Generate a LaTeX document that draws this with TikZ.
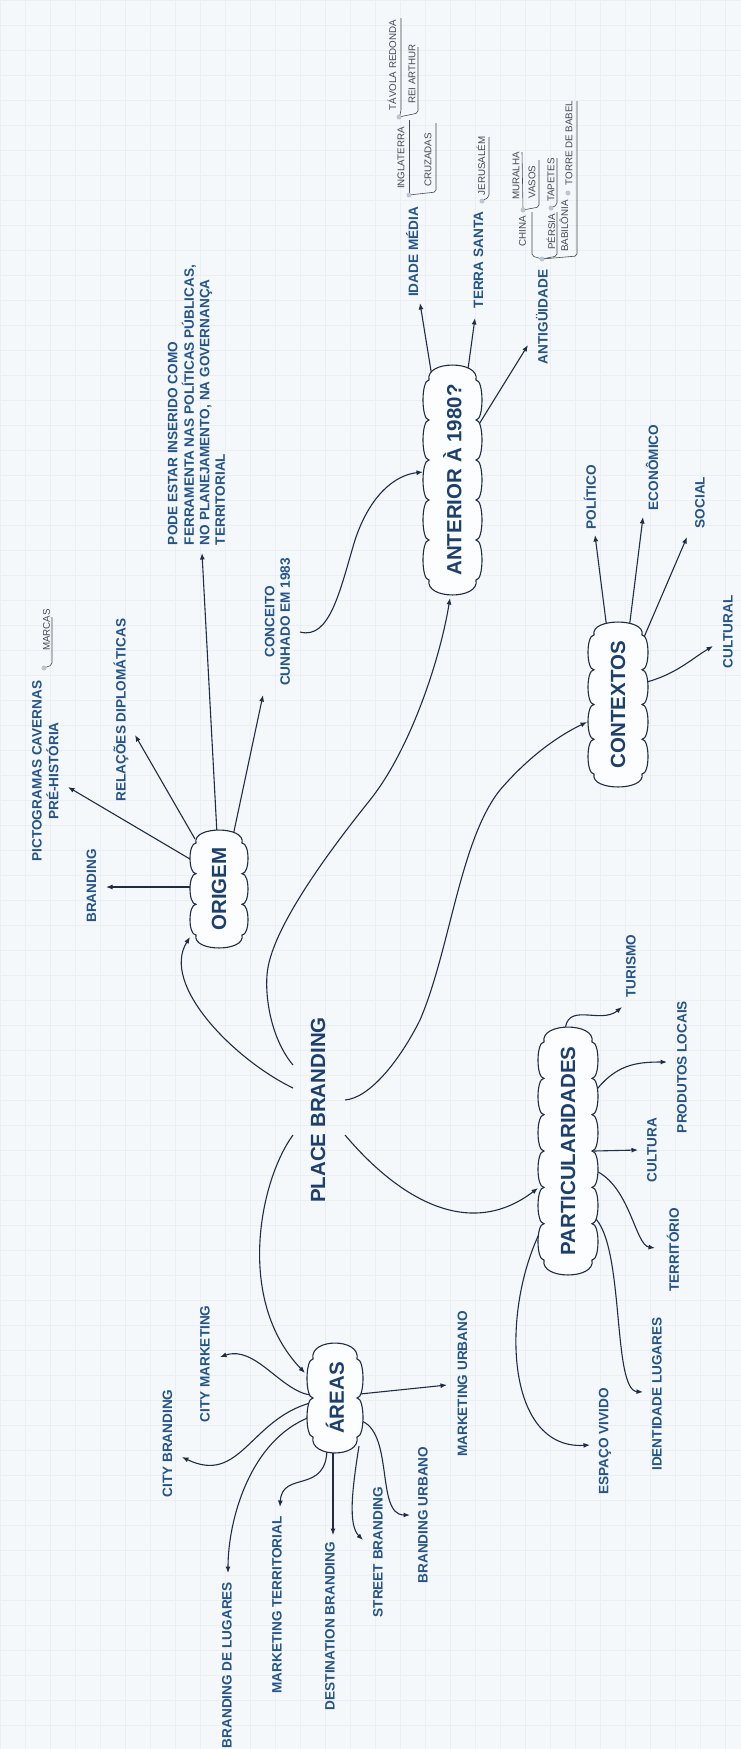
\documentclass[tikz,border=0pt]{standalone}
\usepackage{fontspec}
\setmainfont{Liberation Sans}
\usepackage{graphicx}
\usetikzlibrary{arrows.meta}
\definecolor{bgc}{HTML}{F5F8FA}
\definecolor{gridc}{HTML}{EBEFF2}
\definecolor{linec}{HTML}{1F2C44}
\definecolor{txtc}{HTML}{24548A}
\definecolor{headc}{HTML}{1D3F6E}
\definecolor{smallc}{HTML}{444B55}
\definecolor{dotc}{HTML}{BCC6D0}
\definecolor{cloudfill}{HTML}{FCFDFE}
\pgfdeclarelayer{bg}\pgfdeclarelayer{conn}\pgfdeclarelayer{cloud}
\pgfsetlayers{bg,conn,cloud,main}
% cloud outline: cx cy halfwidth halfheight bumps cap
\newcommand\cloudshape[6]{%
 \pgfmathsetmacro\cL{2*(#4-#6)/#5}%
 \pgfmathsetmacro\cXl{#1-#3+6}%
 \pgfmathsetmacro\cXr{#1+#3-6}%
 \pgfmathsetmacro\cYt{#2-#4+#6}%
 \pgfmathsetmacro\cYb{#2+#4-#6}%
 \pgfmathsetmacro\cCap{#6*1.33}%
 \draw[cloudline] (\cXl,\cYt) .. controls ({\cXl-4},{\cYt-\cCap}) and ({\cXr+4},{\cYt-\cCap}) .. (\cXr,\cYt)
  \foreach \k in {1,...,#5}{ .. controls ({\cXr+8},{\cYt+(\k-1)*\cL}) and ({\cXr+8},{\cYt+\k*\cL}) .. ({\cXr},{\cYt+\k*\cL}) }
  .. controls ({\cXr+4},{\cYb+\cCap}) and ({\cXl-4},{\cYb+\cCap}) .. (\cXl,\cYb)
  \foreach \k in {1,...,#5}{ .. controls ({\cXl-8},{\cYb-(\k-1)*\cL}) and ({\cXl-8},{\cYb-\k*\cL}) .. ({\cXl},{\cYb-\k*\cL}) }
  -- cycle;}
\tikzset{
 titletxt/.style={inner sep=0pt, text=headc, font=\fontsize{20.5}{24}\selectfont\bfseries},
 cloudtxt/.style={inner sep=0pt, text=headc, font=\fontsize{20.5}{24}\selectfont\bfseries},
 leaf/.style={inner sep=0pt, text=txtc, font=\fontsize{13.6}{15.5}\selectfont\bfseries},
 smalltxt/.style={inner sep=0pt, text=smallc, font=\fontsize{9.8}{11}\selectfont},
 conn/.style={draw=linec, line width=1.1pt, -{Latex[length=6.5pt,width=5pt]}},
 callline/.style={draw=smallc, line width=0.6pt, rounded corners=2pt},
 dotn/.style={circle, fill=dotc, inner sep=0pt, minimum size=5pt},
 cloudline/.style={draw=linec, line width=1.1pt, fill=cloudfill},
}
\begin{document}
\begin{tikzpicture}[x=1pt,y=-1pt]
\useasboundingbox (0,0) rectangle (741,1749);
\begin{pgfonlayer}{bg}
 \fill[bgc] (0,0) rectangle (741,1749);
 \foreach \gx in {0,25,...,741} \draw[gridc, line width=0.4pt] (\gx,0) -- (\gx,1749);
 \foreach \gy in {0,25,...,1749} \draw[gridc, line width=0.4pt] (0,\gy) -- (741,\gy);
\end{pgfonlayer}
\begin{pgfonlayer}{cloud}
 \cloudshape{219}{889}{29}{59}{3}{13}
 \cloudshape{452.5}{480}{29.5}{115}{5}{15}
 \cloudshape{618}{704.5}{30}{82.5}{4}{13}
 \cloudshape{568}{1151}{30}{124}{6}{15}
 \cloudshape{335}{1398}{28}{55}{2}{16}
\end{pgfonlayer}
% main nodes
\node[titletxt] (pb) at (318,1110) {\rotatebox{90}{PLACE BRANDING}};
\node[cloudtxt] (origem) at (219,889) {\rotatebox{90}{ORIGEM}};
\node[cloudtxt] (ant) at (452.5,480) {\rotatebox{90}{ANTERIOR À 1980?}};
\node[cloudtxt] (ctx) at (618,704.5) {\rotatebox{90}{CONTEXTOS}};
\node[cloudtxt] (part) at (568,1151) {\rotatebox{90}{PARTICULARIDADES}};
\node[cloudtxt] (areas) at (335,1398) {\rotatebox{90}{ÁREAS}};
% leaves
\node[leaf] (bran) at (91.5,886) {\rotatebox{90}{BRANDING}};
\node[leaf] (picto) at (47,771) {\rotatebox{90}{\begin{tabular}{@{}c@{}}PICTOGRAMAS CAVERNAS\\PRÉ-HISTÓRIA\end{tabular}}};
\node[leaf] (rel) at (121,710) {\rotatebox{90}{RELAÇÕES DIPLOMÁTICAS}};
\node[leaf] (pode) at (198,405) {\rotatebox{90}{\begin{tabular}{@{}l@{}}PODE ESTAR INSERIDO COMO\\FERRAMENTA NAS POLÍTICAS PÚBLICAS,\\NO PLANEJAMENTO, NA GOVERNANÇA\\TERRITORIAL\end{tabular}}};
\node[leaf] (conc) at (279,622) {\rotatebox{90}{\begin{tabular}{@{}c@{}}CONCEITO\\CUNHADO EM 1983\end{tabular}}};
\node[leaf] (idade) at (412,252) {\rotatebox{90}{IDADE MÉDIA}};
\node[leaf] (terra) at (478.5,260) {\rotatebox{90}{TERRA SANTA}};
\node[leaf] (antig) at (542,317) {\rotatebox{90}{ANTIGÜIDADE}};
\node[leaf] (pol) at (590,497) {\rotatebox{90}{POLÍTICO}};
\node[leaf] (eco) at (652,467.5) {\rotatebox{90}{ECONÔMICO}};
\node[leaf] (soc) at (700,502.5) {\rotatebox{90}{SOCIAL}};
\node[leaf] (cult) at (728,632) {\rotatebox{90}{CULTURAL}};
\node[leaf] (tur) at (631,966) {\rotatebox{90}{TURISMO}};
\node[leaf] (prod) at (682,1067) {\rotatebox{90}{PRODUTOS LOCAIS}};
\node[leaf] (cultura) at (652,1150) {\rotatebox{90}{CULTURA}};
\node[leaf] (terr) at (673,1250) {\rotatebox{90}{TERRITÓRIO}};
\node[leaf] (ident) at (657,1394) {\rotatebox{90}{IDENTIDADE LUGARES}};
\node[leaf] (esp) at (605,1441.5) {\rotatebox{90}{ESPAÇO VIVIDO}};
\node[leaf] (citym) at (205,1364) {\rotatebox{90}{CITY MARKETING}};
\node[leaf] (cityb) at (167.5,1443.5) {\rotatebox{90}{CITY BRANDING}};
\node[leaf] (lug) at (227,1665) {\rotatebox{90}{BRANDING DE LUGARES}};
\node[leaf] (mkt) at (277,1605) {\rotatebox{90}{MARKETING TERRITORIAL}};
\node[leaf] (dest) at (330,1626) {\rotatebox{90}{DESTINATION BRANDING}};
\node[leaf] (street) at (378,1552) {\rotatebox{90}{STREET BRANDING}};
\node[leaf] (burb) at (423,1515) {\rotatebox{90}{BRANDING URBANO}};
\node[leaf] (murb) at (462.5,1384) {\rotatebox{90}{MARKETING URBANO}};
% small callouts
\node[dotn] (dm) at (44,668) {};
\node[smalltxt] (marcas) at (46.5,630) {\rotatebox{90}{MARCAS}};
\node[dotn] (di) at (409,195) {};
\node[smalltxt] (ingl) at (401,158) {\rotatebox{90}{INGLATERRA}};
\node[smalltxt] (cruz) at (428,160) {\rotatebox{90}{CRUZADAS}};
\node[dotn] (di2) at (399,117) {};
\node[smalltxt] (tav) at (392,65) {\rotatebox{90}{TÁVOLA REDONDA}};
\node[smalltxt] (rei) at (412,74) {\rotatebox{90}{REI ARTHUR}};
\node[dotn] (dt) at (482,201) {};
\node[smalltxt] (jer) at (481,166) {\rotatebox{90}{JERUSALÉM}};
\node[dotn] (da) at (542,259) {};
\node[smalltxt] (china) at (522.5,231) {\rotatebox{90}{CHINA}};
\node[dotn] (dc) at (523,210) {};
\node[smalltxt] (mur) at (516,176) {\rotatebox{90}{MURALHA}};
\node[smalltxt] (vas) at (532,182) {\rotatebox{90}{VASOS}};
\node[smalltxt] (per) at (551,232) {\rotatebox{90}{PÉRSIA}};
\node[dotn] (dp) at (551,208) {};
\node[smalltxt] (tap) at (551,180) {\rotatebox{90}{TAPETES}};
\node[smalltxt] (bab) at (564,226) {\rotatebox{90}{BABILÔNIA}};
\node[dotn] (db) at (568,193) {};
\node[smalltxt] (tor) at (569,143) {\rotatebox{90}{TORRE DE BABEL}};
% outgoing connectors (below clouds)
\begin{pgfonlayer}{conn}
 \draw[conn] ([shift={(-25,-2)}]origem.center) -- ([shift={(14.5,1)}]bran.center);
 \draw[conn] ([shift={(-24,-27)}]origem.center) -- ([shift={(21,16)}]picto.center);
 \draw[conn] ([shift={(-24,-50)}]origem.center) -- ([shift={(14,25)}]rel.center);
 \draw[conn] ([shift={(-2,-55)}]origem.center) -- ([shift={(4,148)}]pode.center);
 \draw[conn] ([shift={(14,-53)}]origem.center) -- ([shift={(-16,73)}]conc.center);
 \draw[conn] ([shift={(-20,-100)}]ant.center) -- ([shift={(8,51)}]idade.center);
 \draw[conn] ([shift={(14,-100)}]ant.center) -- ([shift={(-3.5,58)}]terra.center);
 \draw[conn] ([shift={(26,-55)}]ant.center) -- ([shift={(-14,28)}]antig.center);
 \draw[conn] ([shift={(-11,-75)}]ctx.center) -- ([shift={(5,38)}]pol.center);
 \draw[conn] ([shift={(11,-75)}]ctx.center) -- ([shift={(-9,49.5)}]eco.center);
 \draw[conn] ([shift={(25,-65)}]ctx.center) -- ([shift={(-13,34.5)}]soc.center);
 \draw[conn] ([shift={(25,-21.5)}]ctx.center) .. controls (675,675) and (690,660) .. ([shift={(-15,14)}]cult.center);
 \draw[conn] ([shift={(-3,-118)}]part.center) .. controls (565,1000) and (600,1025) .. ([shift={(-9,41)}]tur.center);
 \draw[conn] ([shift={(26,-58)}]part.center) .. controls (615,1065) and (635,1062) .. ([shift={(-15,-5)}]prod.center);
 \draw[conn] ([shift={(26,0)}]part.center) -- ([shift={(-14,0)}]cultura.center);
 \draw[conn] ([shift={(26,19)}]part.center) .. controls (630,1185) and (635,1245) .. ([shift={(-18,-2)}]terr.center);
 \draw[conn] ([shift={(26,66)}]part.center) .. controls (625,1245) and (612,1390) .. ([shift={(-14,-2)}]ident.center);
 \draw[conn] ([shift={(-26,77)}]part.center) .. controls (500,1310) and (505,1450) .. ([shift={(-15,3.5)}]esp.center);
 \draw[conn] ([shift={(-25,-3)}]areas.center) .. controls (280,1390) and (255,1345) .. ([shift={(15,-7)}]citym.center);
 \draw[conn] ([shift={(-25,5)}]areas.center) .. controls (250,1420) and (240,1485) .. ([shift={(14.5,13.5)}]cityb.center);
 \draw[conn] ([shift={(-25,19)}]areas.center) .. controls (250,1440) and (228,1520) .. ([shift={(1,-92)}]lug.center);
 \draw[conn] ([shift={(-8,50)}]areas.center) .. controls (327,1495) and (282,1470) .. ([shift={(3,-98)}]mkt.center);
 \draw[conn] ([shift={(-2,50)}]areas.center) -- ([shift={(3,-91)}]dest.center);
 \draw[conn] ([shift={(24,48)}]areas.center) .. controls (352,1490) and (348,1525) .. ([shift={(-15,-12)}]street.center);
 \draw[conn] ([shift={(24,22)}]areas.center) .. controls (395,1430) and (375,1515) .. ([shift={(-13,0)}]burb.center);
 \draw[conn] ([shift={(25,-4)}]areas.center) -- ([shift={(-15.5,1)}]murb.center);
 % callout lines
 \draw[callline] (dm.center) -- (52,665) -- (52,617);
 \draw[callline] (di.center) -- (409,120);
 \draw[callline] (di.center) -- (436,192) -- (436,123);
 \draw[callline] (di2.center) -- (401,112) -- (401,18);
 \draw[callline] (di2.center) -- (418,113) -- (418,47);
 \draw[callline] (dt.center) -- (489,197) -- (489,137);
 \draw[callline] (da.center) -- (532,256) -- (532,212);
 \draw[callline] (dc.center) -- (522,152);
 \draw[callline] (dc.center) -- (539,207) -- (539,160);
 \draw[callline] (da.center) -- (557,256) -- (557,212);
 \draw[callline] (dp.center) -- (557,205) -- (557,158);
 \draw[callline] (da.center) -- (577,256) -- (577,101);
\end{pgfonlayer}
% incoming connectors (above clouds)
\draw[conn] ([shift={(-25,-22)}]pb.center) .. controls (235,1060) and (160,985) .. ([shift={(-29,48)}]origem.center);
\draw[conn] ([shift={(-25,-45)}]pb.center) .. controls (272,1040) and (265,1000) .. (267,975) .. controls (270,930) and (330,850) .. (370,800) .. controls (410,750) and (440,660) .. ([shift={(-2.5,118)}]ant.center);
\draw[conn] ([shift={(27,-10)}]pb.center) .. controls (370,1098) and (400,1060) .. (420,1020) .. controls (450,950) and (460,840) .. (500,790) .. controls (530,755) and (560,735) .. ([shift={(-31,17.5)}]ctx.center);
\draw[conn] ([shift={(27,25)}]pb.center) .. controls (400,1200) and (470,1240) .. ([shift={(-30,37)}]part.center);
\draw[conn] ([shift={(-25,25)}]pb.center) .. controls (260,1180) and (235,1300) .. ([shift={(-30,-25)}]areas.center);
\draw[conn] ([shift={(21,10)}]conc.center) .. controls (330,640) and (340,590) .. (355,540) .. controls (370,495) and (395,475) .. ([shift={(-29.5,-8)}]ant.center);
\end{tikzpicture}
\end{document}
